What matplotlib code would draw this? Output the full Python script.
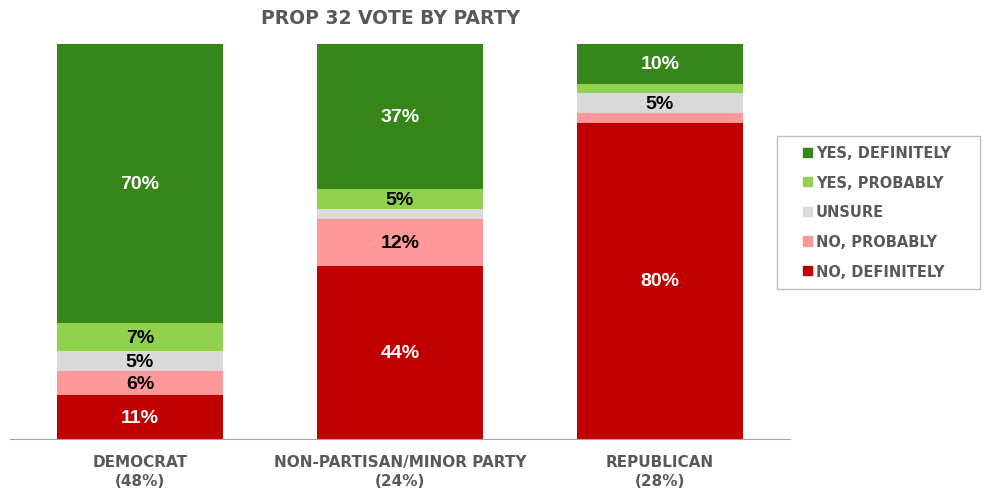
import numpy as np
import matplotlib.pyplot as plt
import matplotlib.patches as mpatches

parties = ["DEMOCRAT\n(48%)", "NON-PARTISAN/MINOR PARTY\n(24%)", "REPUBLICAN\n(28%)"]
answers = ["NO, DEFINITELY", "NO, PROBABLY", "UNSURE", "YES, PROBABLY", "YES, DEFINITELY"]
colors = ["#C00000", "#FF9999", "#D9D9D9", "#92D050", "#378619"]
text_colors = ["white", "black", "black", "black", "white"]

no_def = [11, 44, 80]
no_prob = [6, 12, 2.5]
unsure = [5, 2.5, 5]
yes_prob = [7, 5, 2.5]
yes_def = [70, 37, 10]

data = np.array([no_def, no_prob, unsure, yes_prob, yes_def], dtype=float)
share = data / data.sum(axis=0) * 100

fig = plt.figure(figsize=(9.87, 4.89), dpi=100)
ax = fig.add_axes([10/987, 1-440/489, 780/987, 395/489])

x = np.arange(len(parties))
bottom = np.zeros(len(parties))
for i in range(len(answers)):
    ax.bar(x, share[i], 0.635, bottom=bottom, color=colors[i], label=answers[i])
    for j in range(len(parties)):
        if data[i, j] >= 5:
            ax.text(x[j], bottom[j] + share[i, j] / 2, f"{data[i, j]:.0f}%",
                    ha="center", va="center", fontsize=14, fontweight="bold",
                    color=text_colors[i], family="Liberation Sans")
    bottom += share[i]

grey = "#595959"
ax.set_xlim(-0.5, 2.5)
ax.set_ylim(0, 100)
ax.set_yticks([])
for s in ["top", "right", "left"]:
    ax.spines[s].set_visible(False)
ax.spines["bottom"].set_color("#A6A6A6")
ax.set_xticks(x)
ax.set_xticklabels(parties, fontsize=11, fontweight="bold", color=grey,
                   family="DejaVu Sans", linespacing=1.3)
ax.tick_params(axis="x", length=0, pad=11)

fig.text(391/987, 1-18/489, "PROP 32 VOTE BY PARTY", ha="center", va="center",
         fontsize=13.5, fontweight="bold", color=grey, family="DejaVu Sans")

# legend box drawn separately so it can be wider than the entries
fig.patches.append(mpatches.Rectangle((777/987, 1-290/489), 203/987, 153/489,
                                      transform=fig.transFigure, fill=False,
                                      edgecolor="#BFBFBF", linewidth=1.0))
handles = [mpatches.Patch(color=colors[i], label=answers[i]) for i in range(4, -1, -1)]
leg = fig.legend(handles=handles, loc="center", bbox_to_anchor=(877/987, 1-213/489),
                 frameon=False,
                 prop={"family": "DejaVu Sans", "weight": "bold", "size": 10.5},
                 handlelength=0.6, handleheight=0.6, handletextpad=0.25,
                 labelspacing=1.0, borderpad=0, borderaxespad=0)
for t in leg.get_texts():
    t.set_color(grey)

fig.savefig("out.png", dpi=100)
